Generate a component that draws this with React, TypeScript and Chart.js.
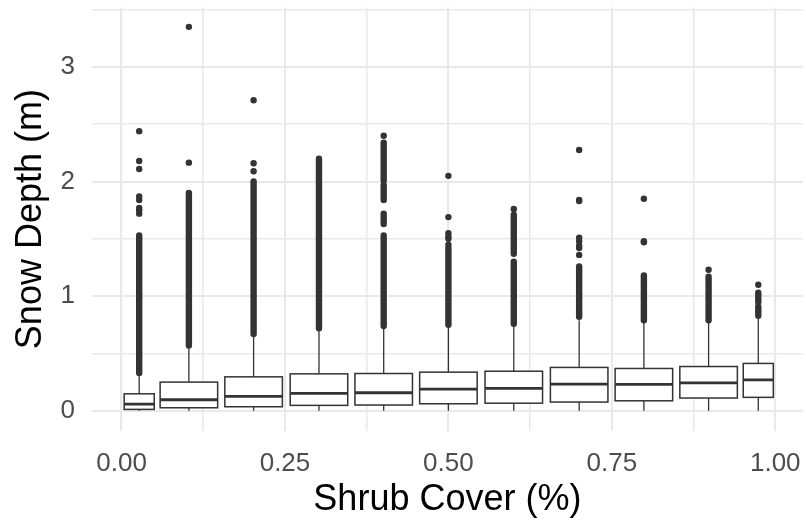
import React, { useEffect, useRef } from "react";
import { Chart, registerables } from "chart.js";

Chart.register(...registerables);

// Box statistics per shrub-cover bin
const groupX = [0.027, 0.103, 0.202, 0.302, 0.401, 0.5, 0.6, 0.7, 0.799, 0.898, 0.974];
const boxWidth = [0.046, 0.088, 0.088, 0.088, 0.088, 0.088, 0.088, 0.088, 0.088, 0.088, 0.046];
const whiskerLow = [0, 0, 0, 0, 0, 0, 0, 0, 0, 0, 0];
const q1 = [0.012, 0.026, 0.035, 0.047, 0.05, 0.061, 0.066, 0.076, 0.087, 0.111, 0.117];
const median = [0.058, 0.096, 0.125, 0.151, 0.157, 0.189, 0.195, 0.233, 0.23, 0.243, 0.27];
const q3 = [0.148, 0.25, 0.296, 0.322, 0.325, 0.337, 0.345, 0.378, 0.369, 0.386, 0.413];
const whiskerHigh = [0.31, 0.55, 0.65, 0.71, 0.72, 0.73, 0.75, 0.79, 0.77, 0.78, 0.82];

// Dense runs of overlapping outliers (group index, from, to)
const runGroup = [0, 1, 2, 3, 4, 4, 4, 4, 5, 6, 6, 7, 8, 9, 10, 10];
const runLo = [0.33, 0.57, 0.67, 0.72, 0.74, 1.63, 1.84, 2.01, 0.75, 0.76, 1.37, 0.82, 0.79, 0.79, 0.83, 0.95];
const runHi = [1.53, 1.9, 2.0, 2.2, 1.53, 1.72, 1.97, 2.34, 1.42, 1.3, 1.71, 1.26, 1.18, 1.17, 0.91, 1.03];

// Isolated outliers
const outlierGroup = [0, 0, 0, 0, 0, 0, 0, 0, 1, 1, 2, 2, 2, 4, 5, 5, 5, 5, 5, 5, 6, 7, 7, 7, 7, 7, 7, 7, 7, 8, 8, 8, 9, 10];
const outlierY = [1.72, 1.75, 1.77, 1.84, 1.87, 2.11, 2.18, 2.44, 2.165, 3.35, 2.09, 2.16, 2.71, 2.4, 1.45, 1.5, 1.52, 1.55, 1.69, 2.05, 1.76, 1.36, 1.42, 1.44, 1.48, 1.51, 1.83, 1.84, 2.275, 1.47, 1.48, 1.85, 1.23, 1.1];

const xTicks = [0, 0.125, 0.25, 0.375, 0.5, 0.625, 0.75, 0.875, 1];
const yTicks = [0, 0.5, 1, 1.5, 2, 2.5, 3, 3.5];

const FONT = "'Liberation Sans', Arial, Helvetica, sans-serif";
const INK = "#333333";

export default function App() {
  const ref = useRef<HTMLCanvasElement>(null);

  useEffect(() => {
    document.body.style.margin = "0";
    const canvas = ref.current;
    if (!canvas) return;

    const boxPlugin = {
      id: "boxes",
      beforeDatasetsDraw(chart: any) {
        const { ctx, scales, chartArea } = chart;
        const x = scales.x;
        const y = scales.y;
        ctx.save();
        ctx.beginPath();
        ctx.rect(chartArea.left, chartArea.top, chartArea.right - chartArea.left, chartArea.bottom - chartArea.top);
        ctx.clip();
        ctx.strokeStyle = INK;
        for (let i = 0; i < groupX.length; i++) {
          const cx = x.getPixelForValue(groupX[i]);
          const l = x.getPixelForValue(groupX[i] - boxWidth[i] / 2);
          const r = x.getPixelForValue(groupX[i] + boxWidth[i] / 2);
          const yLo = y.getPixelForValue(whiskerLow[i]);
          const yQ1 = y.getPixelForValue(q1[i]);
          const yMed = y.getPixelForValue(median[i]);
          const yQ3 = y.getPixelForValue(q3[i]);
          const yHi = y.getPixelForValue(whiskerHigh[i]);
          ctx.lineWidth = 1.3;
          ctx.beginPath();
          ctx.moveTo(cx, yLo);
          ctx.lineTo(cx, yQ1);
          ctx.moveTo(cx, yQ3);
          ctx.lineTo(cx, yHi);
          ctx.stroke();
          ctx.fillStyle = "#ffffff";
          ctx.fillRect(l, yQ3, r - l, yQ1 - yQ3);
          ctx.lineWidth = 1.5;
          ctx.strokeRect(l, yQ3, r - l, yQ1 - yQ3);
          ctx.lineWidth = 2.8;
          ctx.beginPath();
          ctx.moveTo(l, yMed);
          ctx.lineTo(r, yMed);
          ctx.stroke();
        }
        ctx.restore();
      },
    };

    const runSets = runGroup.map((g, k) => ({
      data: [
        { x: groupX[g], y: runLo[k] },
        { x: groupX[g], y: runHi[k] },
      ],
      showLine: true,
      borderColor: INK,
      borderWidth: 6.4,
      borderCapStyle: "round" as const,
      pointRadius: 0,
      pointHoverRadius: 0,
    }));

    const pointSet = {
      data: outlierGroup.map((g, k) => ({ x: groupX[g], y: outlierY[k] })),
      showLine: false,
      pointRadius: 3.2,
      pointBackgroundColor: INK,
      pointBorderWidth: 0,
      pointHoverRadius: 3.2,
    };

    const isMajorX = (v: number) => Math.abs(v * 4 - Math.round(v * 4)) < 1e-6;
    const isMajorY = (v: number) => Number.isInteger(v);

    const chart = new Chart(canvas, {
      type: "scatter",
      data: { datasets: [...runSets, pointSet] as any },
      options: {
        animation: false,
        responsive: false,
        maintainAspectRatio: false,
        devicePixelRatio: 1,
        layout: { padding: { top: 7.5, right: 0, left: 0, bottom: 0 } },
        plugins: { legend: { display: false }, tooltip: { enabled: false } },
        scales: {
          x: {
            type: "linear",
            min: -0.0452,
            max: 1.0421,
            afterBuildTicks: (s: any) => {
              s.ticks = xTicks.map((v) => ({ value: v }));
            },
            afterFit: (s: any) => {
              s.height = 92.3;
              s.paddingLeft = 0;
              s.paddingRight = 0;
            },
            border: { display: false },
            grid: {
              color: "#E9E9E9",
              lineWidth: (c: any) => (isMajorX(c.tick.value) ? 2.1 : 1.6),
              drawTicks: false,
            },
            ticks: {
              autoSkip: false,
              maxRotation: 0,
              color: "#4D4D4D",
              padding: 18,
              font: { family: FONT, size: 26 },
              callback: (v: any) => (isMajorX(Number(v)) ? Number(v).toFixed(2) : ""),
            },
            title: {
              display: true,
              text: "Shrub Cover (%)",
              color: "#000000",
              font: { family: FONT, size: 36 },
              padding: { top: 0, bottom: 1 },
            },
          },
          y: {
            type: "linear",
            min: -0.174,
            max: 3.519,
            afterBuildTicks: (s: any) => {
              s.ticks = yTicks.map((v) => ({ value: v }));
            },
            afterFit: (s: any) => {
              s.width = 92;
              s.paddingTop = 0;
              s.paddingBottom = 0;
            },
            border: { display: false },
            grid: {
              color: "#E9E9E9",
              lineWidth: (c: any) => (isMajorY(c.tick.value) ? 2.1 : 1.6),
              drawTicks: false,
            },
            ticks: {
              autoSkip: false,
              color: "#4D4D4D",
              padding: 17,
              font: { family: FONT, size: 26 },
              callback: (v: any) => (isMajorY(Number(v)) ? String(v) : ""),
            },
            title: {
              display: true,
              text: "Snow Depth (m)",
              color: "#000000",
              font: { family: FONT, size: 36 },
              padding: { top: 9, bottom: 0 },
            },
          },
        },
      },
      plugins: [boxPlugin],
    });

    return () => chart.destroy();
  }, []);

  return (
    <div style={{ position: "absolute", left: 0, top: 0, width: 806, height: 523, background: "#ffffff" }}>
      <canvas ref={ref} width={806} height={523} style={{ width: 806, height: 523, display: "block" }} />
    </div>
  );
}
